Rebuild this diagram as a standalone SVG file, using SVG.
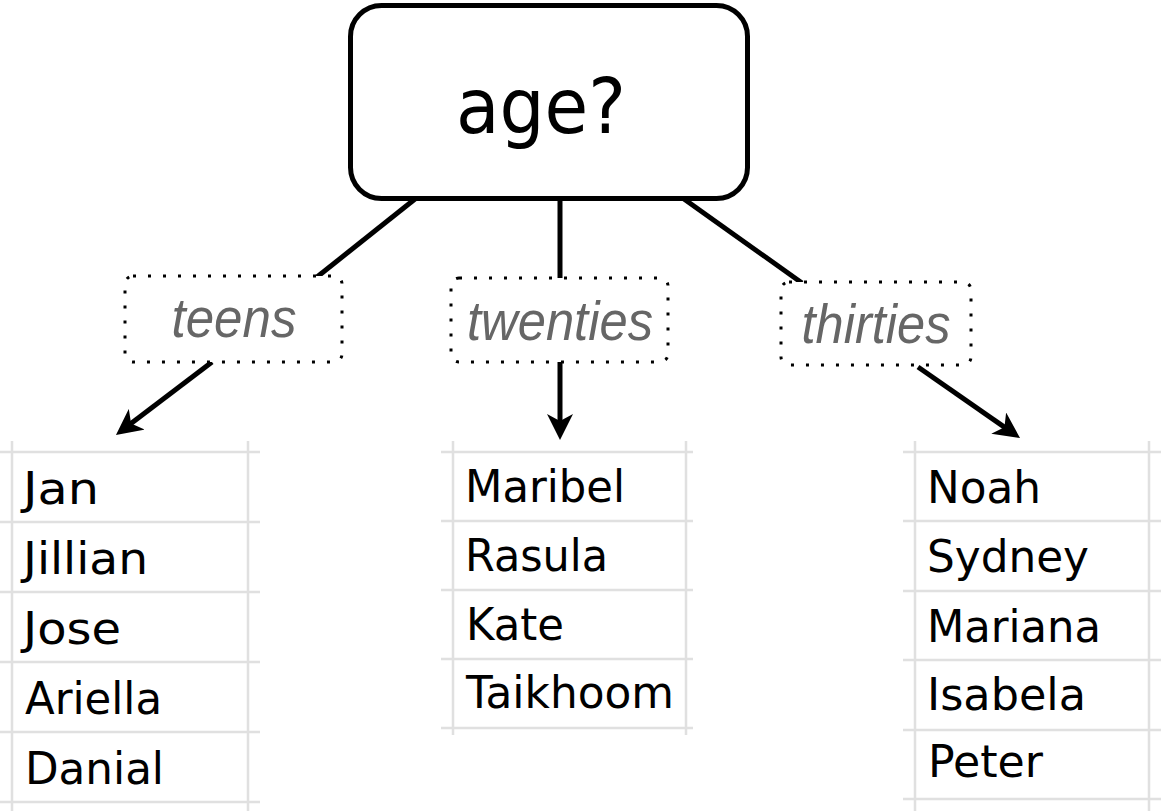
<svg xmlns="http://www.w3.org/2000/svg" width="1161" height="811" viewBox="0 0 1161 811">
<style>
.grid{stroke:#e0e0e0;stroke-width:2.5;fill:none}
.cell{font-family:"DejaVu Sans",Verdana,sans-serif;font-size:45px;fill:#000}
.lbl{font-family:"Liberation Sans",Arial,sans-serif;font-style:italic;font-size:55px;fill:#666;text-anchor:middle}
.lblbox{fill:#fff;stroke:#000;stroke-width:3;stroke-dasharray:3 12}
.conn{stroke:#000;stroke-width:5;fill:none}
</style>
<defs>
<marker id="arr" markerUnits="userSpaceOnUse" markerWidth="26" markerHeight="26" viewBox="0 0 26 26" refX="10" refY="13" orient="auto">
<path d="M26,13 L0,0 L7,13 L0,26 Z" fill="#000"/>
</marker>
</defs>
<rect width="1161" height="811" fill="#fff"/>

<g id="connectors">
<line class="conn" x1="415" y1="199" x2="317" y2="277"/>
<line class="conn" x1="560" y1="199" x2="560" y2="279"/>
<line class="conn" x1="684" y1="199" x2="802" y2="283"/>
<line class="conn" x1="212" y1="362" x2="128.7" y2="425.3" marker-end="url(#arr)"/>
<line class="conn" x1="560" y1="362" x2="560" y2="424" marker-end="url(#arr)"/>
<line class="conn" x1="918" y1="367" x2="1006.9" y2="428.9" marker-end="url(#arr)"/>
</g>

<g id="node-age">
<rect x="350.5" y="5.5" width="397" height="193" rx="31" fill="#fff" stroke="#000" stroke-width="5"/>
<text x="541" y="133" font-family="'DejaVu Sans',Verdana,sans-serif" font-size="76" text-anchor="middle" textLength="170" lengthAdjust="spacingAndGlyphs">age?</text>
</g>

<g id="label-teens">
<rect class="lblbox" x="125" y="276" width="217" height="86" rx="8"/>
<text class="lbl" x="234" y="337" textLength="125" lengthAdjust="spacingAndGlyphs">teens</text>
</g>
<g id="label-twenties">
<rect class="lblbox" x="451" y="278" width="217" height="84" rx="8"/>
<text class="lbl" x="560" y="340" textLength="186" lengthAdjust="spacingAndGlyphs">twenties</text>
</g>
<g id="label-thirties">
<rect class="lblbox" x="781" y="282" width="190" height="83" rx="8"/>
<text class="lbl" x="876" y="343" textLength="149" lengthAdjust="spacingAndGlyphs">thirties</text>
</g>

<g id="table-teens">
<g class="grid">
<line x1="12" y1="441" x2="12" y2="811"/>
<line x1="248" y1="441" x2="248" y2="811"/>
<line x1="0" y1="452" x2="260" y2="452"/>
<line x1="0" y1="522" x2="260" y2="522"/>
<line x1="0" y1="592" x2="260" y2="592"/>
<line x1="0" y1="662" x2="260" y2="662"/>
<line x1="0" y1="732" x2="260" y2="732"/>
<line x1="0" y1="802" x2="260" y2="802"/>
</g>
<text class="cell" x="23" y="504" textLength="76" lengthAdjust="spacingAndGlyphs">Jan</text>
<text class="cell" x="23" y="574" textLength="125" lengthAdjust="spacingAndGlyphs">Jillian</text>
<text class="cell" x="23" y="644" textLength="98" lengthAdjust="spacingAndGlyphs">Jose</text>
<text class="cell" x="25" y="714" textLength="137" lengthAdjust="spacingAndGlyphs">Ariella</text>
<text class="cell" x="25" y="784" textLength="139" lengthAdjust="spacingAndGlyphs">Danial</text>
</g>

<g id="table-twenties">
<g class="grid">
<line x1="453" y1="441" x2="453" y2="735"/>
<line x1="686" y1="441" x2="686" y2="735"/>
<line x1="441" y1="452" x2="693" y2="452"/>
<line x1="441" y1="521" x2="693" y2="521"/>
<line x1="441" y1="590" x2="693" y2="590"/>
<line x1="441" y1="659" x2="693" y2="659"/>
<line x1="441" y1="728" x2="693" y2="728"/>
</g>
<text class="cell" x="465" y="502" textLength="160" lengthAdjust="spacingAndGlyphs">Maribel</text>
<text class="cell" x="465" y="571" textLength="143" lengthAdjust="spacingAndGlyphs">Rasula</text>
<text class="cell" x="466" y="640" textLength="98" lengthAdjust="spacingAndGlyphs">Kate</text>
<text class="cell" x="466" y="708" textLength="208" lengthAdjust="spacingAndGlyphs">Taikhoom</text>
</g>

<g id="table-thirties">
<g class="grid">
<line x1="915" y1="441" x2="915" y2="811"/>
<line x1="1149" y1="441" x2="1149" y2="811"/>
<line x1="903" y1="452" x2="1161" y2="452"/>
<line x1="903" y1="521" x2="1161" y2="521"/>
<line x1="903" y1="591" x2="1161" y2="591"/>
<line x1="903" y1="660" x2="1161" y2="660"/>
<line x1="903" y1="730" x2="1161" y2="730"/>
<line x1="903" y1="799" x2="1161" y2="799"/>
</g>
<text class="cell" x="927" y="503" textLength="114" lengthAdjust="spacingAndGlyphs">Noah</text>
<text class="cell" x="927" y="572" textLength="162" lengthAdjust="spacingAndGlyphs">Sydney</text>
<text class="cell" x="927" y="642" textLength="174" lengthAdjust="spacingAndGlyphs">Mariana</text>
<text class="cell" x="927" y="710" textLength="159" lengthAdjust="spacingAndGlyphs">Isabela</text>
<text class="cell" x="928" y="777" textLength="115" lengthAdjust="spacingAndGlyphs">Peter</text>
</g>
</svg>
